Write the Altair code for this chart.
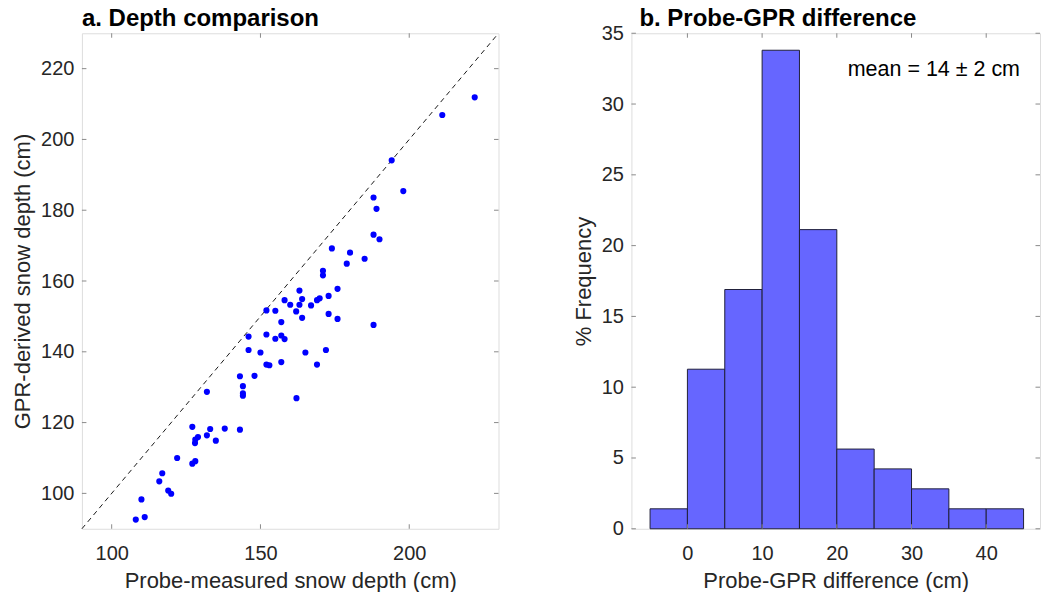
import altair as alt
import pandas as pd

# ---- Panel a data (probe vs GPR depth, cm) ----
probe = [222.0, 211.1, 194.1, 198.0, 188.0, 189.0, 188.0, 190.0, 174.0, 180.1,
         185.0, 179.0, 171.0, 171.0, 175.9, 163.1, 172.9, 164.0, 158.1, 169.0,
         169.9, 160.0, 163.1, 167.0, 152.0, 155.0, 162.0, 172.9, 157.0, 164.0,
         175.9, 188.0, 146.0, 152.0, 155.0, 157.0, 158.1, 146.0, 150.0, 165.1,
         172.0, 152.0, 153.0, 157.0, 169.0, 143.1, 148.0, 144.1, 144.1, 144.1,
         132.0, 162.1, 127.1, 133.1, 138.0, 143.1, 132.0, 129.0, 128.1, 128.0,
         135.0, 122.0, 127.1, 128.1, 117.0, 116.0, 119.0, 120.0, 110.0, 111.1,
         108.1]
gpr = [211.9, 206.9, 194.1, 185.4, 183.6, 180.4, 173.1, 171.8, 169.2, 168.0,
       166.3, 164.9, 162.9, 161.6, 157.8, 157.3, 155.8, 154.9, 154.6, 154.6,
       155.1, 153.3, 153.3, 153.1, 151.7, 151.6, 151.4, 150.7, 148.4, 149.6,
       149.3, 147.6, 144.3, 144.9, 143.7, 144.6, 143.6, 140.5, 139.8, 139.8,
       140.5, 136.4, 136.2, 137.1, 136.4, 133.1, 133.2, 130.3, 128.3, 127.6,
       128.7, 126.9, 118.8, 118.2, 118.3, 118.0, 116.4, 115.9, 115.2, 114.2,
       114.9, 110.0, 108.4, 109.1, 105.7, 103.4, 100.8, 99.9, 98.3, 93.3,
       92.6]
diag = [90, 230]
a_xticks = [100, 150, 200]
a_yticks = [100, 120, 140, 160, 180, 200, 220]

# ---- Panel b data (histogram of probe - GPR, %) ----
bin_lo = [-5, 0, 5, 10, 15, 20, 25, 30, 35, 40]
bin_hi = [0, 5, 10, 15, 20, 25, 30, 35, 40, 45]
pct = [1.41, 11.27, 16.90, 33.80, 21.13, 5.63, 4.23, 2.82, 1.41, 1.41]
b_xticks = [0, 10, 20, 30, 40]
b_yticks = [0, 5, 10, 15, 20, 25, 30, 35]
annotation = ["mean = 14 \u00b1 2 cm"]
titles = ["a. Depth comparison", "b. Probe-GPR difference"]

FONT = "Liberation Sans"
TXT = "#262626"
BOX = "#8a8a8a"
TL = 4.5

WA, WB, H = 417, 409, 496


def axis(title, values, orient):
    return alt.Axis(title=title, values=values, ticks=False, tickSize=0, domain=False,
                    grid=False, labelFont=FONT, labelFontSize=20, labelColor=TXT,
                    titleFont=FONT, titleFontSize=22, titleColor=TXT,
                    titleFontWeight="normal",
                    labelPadding=14.5 if orient == "x" else 8,
                    titlePadding=7 if orient == "x" else 6)


def inward_ticks(xvals, yvals, xfield, yfield, xs, ys, xax, yax, W):
    xdf = pd.DataFrame({xfield: xvals})
    ydf = pd.DataFrame({yfield: yvals})
    bot = alt.Chart(xdf).mark_rule(color=BOX, strokeWidth=1).encode(
        x=alt.X(f"{xfield}:Q", scale=xs, axis=xax), y=alt.value(H), y2=alt.value(H - TL))
    top = alt.Chart(xdf).mark_rule(color=BOX, strokeWidth=1).encode(
        x=alt.X(f"{xfield}:Q", scale=xs, axis=xax), y=alt.value(0), y2=alt.value(TL))
    left = alt.Chart(ydf).mark_rule(color=BOX, strokeWidth=1).encode(
        y=alt.Y(f"{yfield}:Q", scale=ys, axis=yax), x=alt.value(0), x2=alt.value(TL))
    right = alt.Chart(ydf).mark_rule(color=BOX, strokeWidth=1).encode(
        y=alt.Y(f"{yfield}:Q", scale=ys, axis=yax), x=alt.value(W), x2=alt.value(W - TL))
    return [bot, top, left, right]


def panel_title(text, dx):
    return alt.Chart(pd.DataFrame({"t": [text]})).mark_text(
        font=FONT, fontSize=24, fontWeight="bold", color="black",
        align="left", baseline="alphabetic"
    ).encode(text="t:N", x=alt.value(dx), y=alt.value(-7))


# ---- Panel a ----
xsa = alt.Scale(domain=[90, 230], nice=False, zero=False)
ysa = alt.Scale(domain=[90, 230], nice=False, zero=False)
xaxa = axis("Probe-measured snow depth (cm)", a_xticks, "x")
yaxa = axis("GPR-derived snow depth (cm)", a_yticks, "y")
df_a = pd.DataFrame({"probe": probe, "gpr": gpr})
df_d = pd.DataFrame({"probe": diag, "gpr": diag})

pts = alt.Chart(df_a).mark_circle(color="#0000ff", opacity=1, size=38).encode(
    x=alt.X("probe:Q", scale=xsa, axis=xaxa),
    y=alt.Y("gpr:Q", scale=ysa, axis=yaxa),
)
line = alt.Chart(df_d).mark_line(color="#1a1a1a", strokeWidth=1, strokeDash=[5, 4]).encode(
    x=alt.X("probe:Q", scale=xsa, axis=xaxa),
    y=alt.Y("gpr:Q", scale=ysa, axis=yaxa),
)
panel_a = alt.layer(
    line, pts, *inward_ticks(a_xticks, a_yticks, "probe", "gpr", xsa, ysa, xaxa, yaxa, WA),
    panel_title(titles[0], 0),
).properties(width=WA, height=H)

# ---- Panel b ----
xsb = alt.Scale(domain=[-7.5, 47.2], nice=False, zero=False)
ysb = alt.Scale(domain=[0, 35], nice=False)
xaxb = axis("Probe-GPR difference (cm)", b_xticks, "x")
yaxb = axis("% Frequency", b_yticks, "y")
df_b = pd.DataFrame({"lo": bin_lo, "hi": bin_hi, "pct": pct})

bars = alt.Chart(df_b).mark_rect(fill="#6666ff", stroke="#20203a", strokeWidth=1).encode(
    x=alt.X("lo:Q", scale=xsb, axis=xaxb),
    x2="hi:Q",
    y=alt.Y("pct:Q", scale=ysb, axis=yaxb),
    y2=alt.datum(0),
)
note = alt.Chart(pd.DataFrame({"label": annotation})).mark_text(
    font=FONT, fontSize=21.5, color="black", align="right", baseline="alphabetic"
).encode(text="label:N", x=alt.value(WB - 20), y=alt.value(43))

panel_b = alt.layer(
    bars, note, *inward_ticks(b_xticks, b_yticks, "lo", "pct", xsb, ysb, xaxb, yaxb, WB),
    panel_title(titles[1], 8),
).properties(width=WB, height=H)

chart = alt.hconcat(panel_a, panel_b, spacing=133, bounds="flush").configure_view(
    stroke=BOX, strokeWidth=1
).configure(background="white").properties(padding={"left": 11, "top": 6, "right": 0, "bottom": 0})

chart.save("out.html", embed_options={"renderer": "svg", "actions": False})
